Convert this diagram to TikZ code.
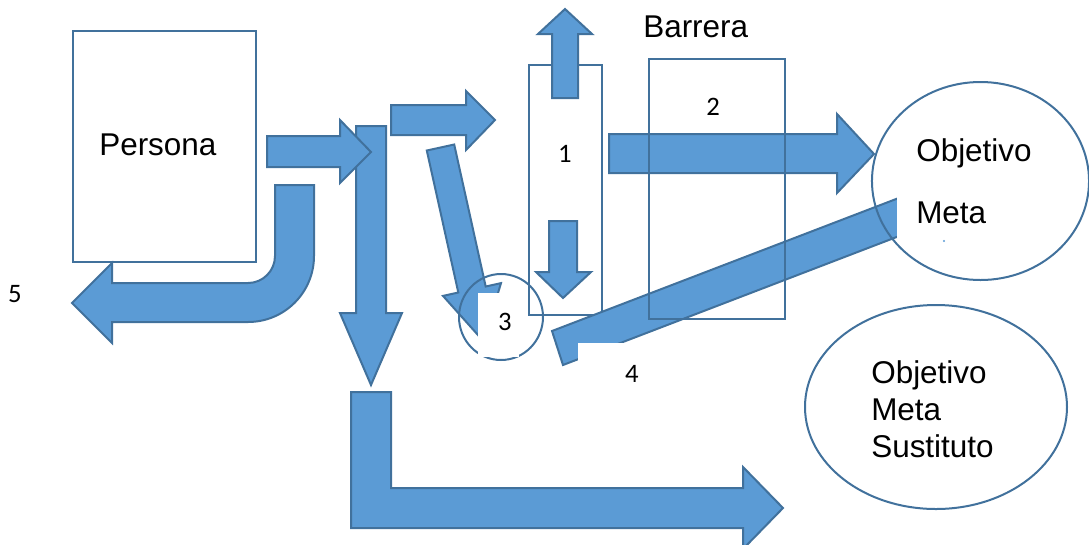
\documentclass[tikz,border=0pt]{standalone}
\usepackage{fontspec}
\setmainfont{Liberation Sans}
\newfontfamily\numfont{Carlito}
\definecolor{arrowfill}{HTML}{5B9BD5}
\definecolor{outline}{HTML}{41719C}
\begin{document}
\begin{tikzpicture}[x=0.75pt,y=-0.75pt,
  blockarrow/.style={fill=arrowfill,draw=outline,line width=1.5pt,line join=miter},
  frame/.style={draw=outline,line width=1.5pt},
  word/.style={font=\fontsize{23.6}{28}\selectfont,inner sep=0pt,anchor=base west},
  num/.style={font=\numfont\fontsize{20}{24}\selectfont,inner sep=0pt,anchor=base},
  cover/.style={fill=white,draw=none}]
\useasboundingbox (0,0) rectangle (1089,544);

% Persona box
\draw[frame,fill=white] (73,31) rectangle (256,262);
\node[word] (persona) at (99,155) {Persona};

% U-turn arrow back to the left (5)
\draw[blockarrow] (275,185) -- (314,185) -- (314,256)
  .. controls (314,292.5) and (284.5,322) .. (248,322)
  -- (112,322) -- (112,343) -- (72,303) -- (112,263) -- (112,283) -- (248,283)
  .. controls (262.9,283) and (275,270.9) .. (275,256) -- cycle;

% long downward arrow
\draw[blockarrow] (356,126) -- (386,126) -- (386,313) -- (402,313) -- (371,385)
  -- (340,313) -- (356,313) -- cycle;

% arrow out of Persona
\draw[blockarrow] (267,136) -- (340,136) -- (340,120) -- (371,152) -- (340,183)
  -- (340,167) -- (267,167) -- cycle;

% bent arrow at the bottom
\draw[blockarrow] (351,392) -- (391,392) -- (391,488) -- (743,488) -- (743,467)
  -- (783,508) -- (743,549) -- (743,528) -- (351,528) -- cycle;

% small arrow towards box 1
\draw[blockarrow] (391,105) -- (466,105) -- (466,91) -- (495,120) -- (466,150)
  -- (466,135) -- (391,135) -- cycle;

% box 1 with its two arrows
\draw[frame] (529,65) rectangle (602,315);
\draw[blockarrow] (552,98) -- (552,34) -- (538,34) -- (565,9) -- (592,34)
  -- (578,34) -- (578,98) -- cycle;
\draw[blockarrow] (549,221) -- (577,221) -- (577,272) -- (591,272) -- (563,298)
  -- (536,272) -- (549,272) -- cycle;
\node[num] (n1) at (565,162) {1};

% slanted arrow down to circle 3
\draw[blockarrow] (426.8,150.5) -- (454.2,144.5) -- (485.7,286.5) -- (501,283.1)
  -- (483.5,341.2) -- (443,295.9) -- (458.3,292.5) -- cycle;

% big arrow through the barrier
\draw[blockarrow] (609,134) -- (837,134) -- (837,114) -- (874,154) -- (837,193)
  -- (837,173) -- (609,173) -- cycle;

% long slanted bar (4)
\draw[blockarrow] (552,331) -- (930,186) -- (941,220) -- (563,365) -- cycle;

% circle 3
\draw[frame] (501,317) circle [x radius=31.5pt, y radius=32.25pt];

% white text boxes
\fill[cover] (478,293) rectangle (519,357);
\fill[cover] (578,343) rectangle (690,400);
\fill[cover] (897,180) rectangle (1000,240);
\fill[arrowfill] (944,241) circle [radius=0.9pt];

\node[num] (n3) at (505,330) {3};
\node[num] (n4) at (632,382) {4};
\node[num] (n5) at (15,302) {5};

% barrier
\draw[frame] (649,59) rectangle (785,319);
\node[word] (barrera) at (643,37) {Barrera};
\node[num] (n2) at (713,115) {2};

% goal ellipses
\draw[frame] (980.5,181) ellipse [x radius=81.4pt, y radius=74.25pt];
\node[word] (obj1) at (916,161) {Objetivo};
\node[word] (meta1) at (916,223) {Meta};

\draw[frame] (936,407) ellipse [x radius=98.25pt, y radius=76.5pt];
\node[word] (obj2) at (871,383) {Objetivo};
\node[word] (meta2) at (871,420) {Meta};
\node[word] (sust) at (871,457) {Sustituto};
\end{tikzpicture}
\end{document}
